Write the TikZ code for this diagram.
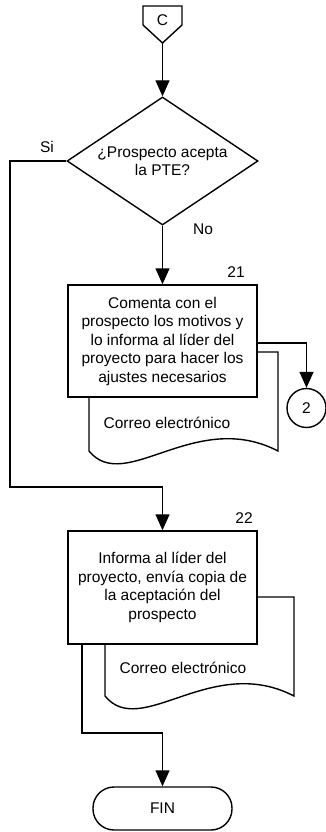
\documentclass[tikz,border=0pt]{standalone}
\usepackage{fontspec}
\setmainfont{Liberation Sans}
\usetikzlibrary{shapes.geometric,arrows.meta,calc}
\begin{document}
\begin{tikzpicture}[x=1pt,y=-1pt,
  every node/.style={font=\fontsize{15.5}{18.5}\selectfont},
  line/.style={draw=black,line width=1.4pt},
  arr/.style={line,-{Triangle[length=16pt,width=14pt]}},
  proc/.style={line,fill=white,rectangle,minimum width=189pt,inner sep=0pt,align=center},
  dec/.style={line,fill=white,diamond,aspect=1.49,minimum width=191pt,minimum height=128pt,inner sep=0pt,align=center},
  docshape/.style={line,fill=white},
  lbl/.style={inner sep=0pt},
]
\useasboundingbox (0,0) rectangle (325,832);

% off-page connector C
\draw[line,fill=white] (143,6) -- (182,6) -- (182,25) -- (162.5,43) -- (143,25) -- cycle;
\node[lbl] (C) at (162.5,20) {C};
\coordinate (Cb) at (162.5,43);

% decision
\node[dec] (D) at (162.5,161) {¿Prospecto acepta\\la PTE?};
\node[lbl] (si) at (47,147) {Si};
\node[lbl] (no) at (203,229) {No};

% document 21
\path[docshape] (89,352) -- (278,352) -- (278,451) .. controls (195,408) and (125,495) .. (89,451) -- cycle;
\node[lbl] (t21) at (167,423) {Correo electrónico};

% process 21
\node[proc,minimum height=112pt] (b21) at (162.5,341) {Comenta con el\\prospecto los motivos y\\lo informa al líder del\\proyecto para hacer los\\ajustes necesarios};
\node[lbl] (n21) at (236,272) {21};

% connector 2
\node[line,circle,minimum size=39pt,inner sep=0pt] (c2) at (306.5,408) {2};

% document 22
\begin{scope}[shift={(16,245)}]
\path[docshape] (89,352) -- (278,352) -- (278,451) .. controls (195,408) and (125,495) .. (89,451) -- cycle;
\node[lbl] (t22) at (167,423) {Correo electrónico};
\end{scope}

% process 22
\node[proc,minimum height=113pt] (b22) at (162.5,587.5) {Informa al líder del\\proyecto, envía copia de\\la aceptación del\\prospecto};
\node[lbl] (n22) at (244,518) {22};

% terminal
\node[line,rectangle,rounded corners=21pt,minimum width=139pt,minimum height=43pt,inner sep=0pt] (fin) at (162.5,808.5) {FIN};

% connectors
\coordinate (siA) at (10,487);
\coordinate (finA) at (82,733);
\draw[arr] (Cb) -- (D.north);
\draw[arr] (D.south) -- (b21.north);
\draw[arr] (D.west) -| (siA) -| (b22.north);
\draw[arr] ([yshift=-2pt]b21.east) -| (c2.north);
\draw[arr] (b22.south -| finA) -- (finA) -| (fin.north);
\end{tikzpicture}
\end{document}
